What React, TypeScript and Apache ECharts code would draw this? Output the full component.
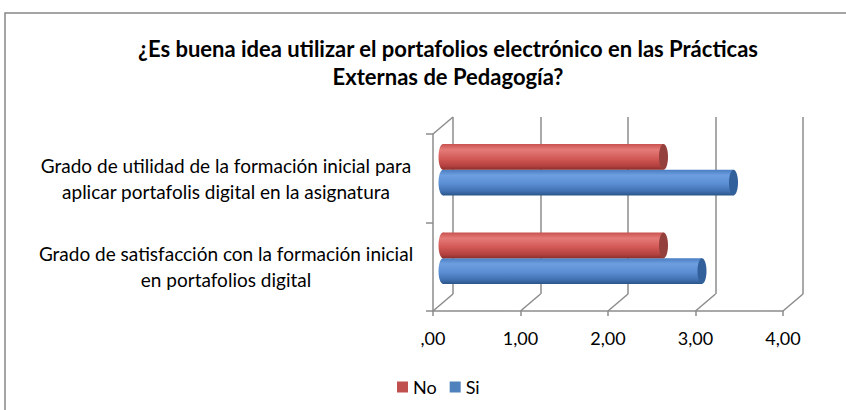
import React, { useEffect, useRef } from "react";
import * as echarts from "echarts";

const categories = [
  "Grado de satisfacción con la formación inicial\nen portafolios digital",
  "Grado de utilidad de la formación inicial para\naplicar portafolis digital en la asignatura",
];
const seriesNames = ["No", "Si"];
const noValues = [2.52, 2.52];
const siValues = [2.96, 3.32];
const xTicks = [0, 1, 2, 3, 4];
const titleText =
  "¿Es buena idea utilizar el portafolios electrónico en las Prácticas\nExternas de Pedagogía?";

const FONT = "Lato";
const AXIS = "#8c8c8c";
const DX = 20;
const DY = -17;

const redStops = [
  { offset: 0, color: "#c95350" },
  { offset: 0.22, color: "#e47b78" },
  { offset: 0.55, color: "#d35a57" },
  { offset: 0.85, color: "#b4413e" },
  { offset: 1, color: "#8a2f2c" },
];
const blueStops = [
  { offset: 0, color: "#4a7dc2" },
  { offset: 0.22, color: "#6d9fe0" },
  { offset: 0.55, color: "#5a8dd3" },
  { offset: 0.85, color: "#3f6fae" },
  { offset: 1, color: "#2c5587" },
];

function cylinder(upper: boolean, stops: any[], capColor: string) {
  return (params: any, api: any) => {
    const cat = api.value(0);
    const val = api.value(1);
    const start = api.coord([0, cat]);
    const end = api.coord([val, cat]);
    const band = api.size([0, 1])[1];
    const h = band * 0.29;
    const yTop = upper ? start[1] - h : start[1];
    const grad = () => new echarts.graphic.LinearGradient(0, 0, 0, 1, stops);
    const rx = 4.5;
    return {
      type: "group",
      children: [
        {
          type: "ellipse",
          shape: { cx: start[0], cy: yTop + h / 2, rx, ry: h / 2 },
          style: { fill: grad() },
        },
        {
          type: "rect",
          shape: { x: start[0], y: yTop, width: end[0] - start[0], height: h },
          style: { fill: grad() },
        },
        {
          type: "ellipse",
          shape: { cx: end[0], cy: yTop + h / 2, rx, ry: h / 2 },
          style: { fill: capColor },
        },
      ],
    };
  };
}

export default function App() {
  const ref = useRef<HTMLDivElement>(null);
  useEffect(() => {
    if (!ref.current) return;
    const chart = echarts.init(ref.current, undefined, { renderer: "svg" });
    const fmt = (v: number) => (v === 0 ? ",00" : v.toFixed(2).replace(".", ","));
    const option: any = {
      animation: false,
      textStyle: { fontFamily: FONT },
      title: {
        text: titleText,
        left: 443,
        top: 29,
        textAlign: "center",
        textStyle: {
          fontFamily: FONT,
          fontSize: 22,
          fontWeight: "bold",
          color: "#000",
          lineHeight: 28,
        },
      },
      legend: {
        data: seriesNames,
        left: 397,
        top: 378,
        padding: 0,
        icon: "rect",
        itemWidth: 11,
        itemHeight: 11,
        itemGap: 13,
        textStyle: { fontFamily: FONT, fontSize: 18, color: "#000" },
      },
      graphic: [
        {
          type: "rect",
          silent: true,
          z: -10,
          shape: { x: 5, y: 13, width: 900, height: 500 },
          style: { fill: "none", stroke: "#868686", lineWidth: 1.5 },
        },
      ],
      grid: [
        { left: 433, top: 134, width: 350, height: 177 },
        { left: 453, top: 117, width: 350, height: 177 },
        { left: 443, top: 125.5, width: 350, height: 177 },
      ],
      xAxis: [
        {
          type: "value",
          gridIndex: 0,
          min: 0,
          max: 4,
          interval: 1,
          axisLine: { show: true, lineStyle: { color: AXIS, width: 1.5 } },
          axisTick: { show: true, length: 5, lineStyle: { color: AXIS, width: 1.5 } },
          splitLine: { show: false },
          axisLabel: {
            formatter: fmt,
            margin: 18,
            fontFamily: FONT,
            fontSize: 18,
            color: "#000",
          },
        },
        {
          type: "value",
          gridIndex: 1,
          min: 0,
          max: 4,
          interval: 1,
          axisLine: { show: false },
          axisTick: { show: false },
          axisLabel: { show: false },
          splitLine: { show: true, lineStyle: { color: AXIS, width: 1.5 } },
        },
        {
          type: "value",
          gridIndex: 2,
          min: 0,
          max: 4,
          interval: 1,
          show: false,
        },
      ],
      yAxis: [
        {
          type: "category",
          gridIndex: 0,
          data: categories,
          axisLine: { show: true, lineStyle: { color: AXIS, width: 1.5 } },
          axisTick: { show: true, length: 7, lineStyle: { color: AXIS, width: 1.5 } },
          axisLabel: {
            align: "center",
            margin: 207,
            fontFamily: FONT,
            fontSize: 19,
            lineHeight: 26,
            color: "#000",
          },
        },
        {
          type: "category",
          gridIndex: 1,
          data: categories,
          show: false,
        },
        {
          type: "category",
          gridIndex: 2,
          data: categories,
          show: false,
        },
      ],
      series: [
        {
          type: "custom",
          name: "floor",
          xAxisIndex: 0,
          yAxisIndex: 0,
          clip: false,
          silent: true,
          data: xTicks.map((v) => [v, 0]),
          encode: { x: 0, y: 1 },
          renderItem: (params: any, api: any) => {
            const v = api.value(0);
            const x = api.coord([v, 0])[0];
            const cs = params.coordSys;
            const yb = cs.y + cs.height;
            const children: any[] = [
              {
                type: "line",
                shape: { x1: x, y1: yb, x2: x + DX, y2: yb + DY },
                style: { stroke: AXIS, lineWidth: 1.5 },
              },
            ];
            if (v === 0) {
              children.push({
                type: "line",
                shape: { x1: cs.x, y1: cs.y, x2: cs.x + DX, y2: cs.y + DY },
                style: { stroke: AXIS, lineWidth: 1.5 },
              });
            }
            return { type: "group", children };
          },
        },
        {
          type: "custom",
          name: "Si",
          xAxisIndex: 2,
          yAxisIndex: 2,
          clip: false,
          itemStyle: { color: "#4f81bd" },
          data: siValues.map((v, i) => [i, v]),
          encode: { x: 1, y: 0 },
          renderItem: cylinder(false, blueStops, "#32609a"),
        },
        {
          type: "custom",
          name: "No",
          xAxisIndex: 2,
          yAxisIndex: 2,
          clip: false,
          itemStyle: { color: "#c0504d" },
          data: noValues.map((v, i) => [i, v]),
          encode: { x: 1, y: 0 },
          renderItem: cylinder(true, redStops, "#94403d"),
        },
      ],
    };
    chart.setOption(option);
    return () => chart.dispose();
  }, []);
  return (
    <div
      ref={ref}
      style={{ position: "fixed", left: 0, top: 0, width: 846, height: 410, background: "#fff" }}
    />
  );
}
